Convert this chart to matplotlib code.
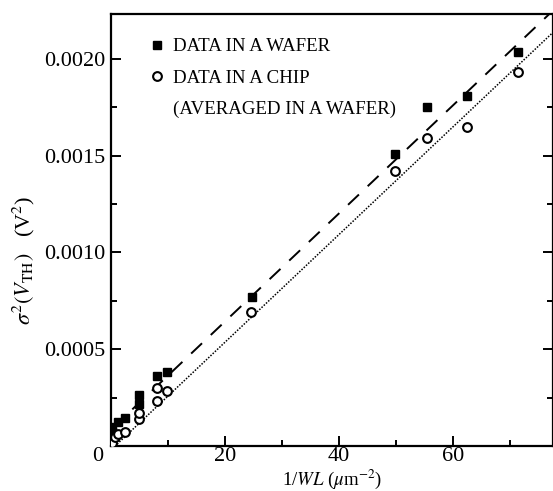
import matplotlib
matplotlib.use("Agg")
import matplotlib.pyplot as plt
import matplotlib.transforms as mtransforms
from matplotlib.lines import Line2D
import numpy as np

plt.rcParams['font.family'] = ['Liberation Serif', 'DejaVu Serif']
plt.rcParams['mathtext.fontset'] = 'stix'

# data
wafer_x = [0.2, 0.2, 1.2, 2.5, 4.9, 4.9, 8.1, 9.9, 24.8, 49.9, 55.5, 62.4, 71.4]
wafer_y = [0.000074, 0.0001, 0.000126, 0.000147, 0.000215, 0.000264,
           0.000364, 0.00038, 0.00077, 0.00151, 0.00175, 0.00181, 0.002036]

chip_x = [0.2, 0.7, 1.3, 2.5, 4.9, 4.9, 8.1, 8.1, 9.9, 24.6, 49.9, 55.5, 62.4, 71.4]
chip_y = [0.000015, 0.000048, 0.00006, 0.000074, 0.000140, 0.00017, 0.00023,
          0.0003, 0.000282, 0.00069, 0.00142, 0.00159, 0.00165, 0.00193]

# straight-line fits drawn in the figure (slope, intercept)
wafer_fit = (0.0000279, 0.000085)
chip_fit = (0.0000278, -0.00002)
fit_range = (0.3, 80)

fig = plt.figure(figsize=(5.53, 4.91), dpi=100)
ax = fig.add_axes([0.2007, 0.0916, 0.7985, 0.8793])

xs = np.linspace(fit_range[0], fit_range[1], 200)
ax.plot(xs, wafer_fit[0] * xs + wafer_fit[1], color='black', lw=1.4,
        dashes=(7.7, 6.2), zorder=2)
ax.plot(xs, chip_fit[0] * xs + chip_fit[1], color='black', lw=1.1,
        linestyle=(0, (1.0, 1.0)), zorder=2)

ax.plot(wafer_x, wafer_y, 's', color='black', ms=5.2, ls='none', zorder=3)
ax.plot(chip_x, chip_y, 'o', mfc='white', mec='black', mew=1.5, ms=6.3,
        ls='none', zorder=3)

ax.set_xlim(0, 77.5)
ax.set_ylim(0, 0.00223)

ax.set_xticks([0, 20, 40, 60])
ax.set_xticks([10, 30, 50, 70], minor=True)
ax.set_yticks([0.0005, 0.0010, 0.0015, 0.0020])
ax.set_yticklabels(['0.0005', '0.0010', '0.0015', '0.0020'])
ax.set_yticks([0.00025, 0.00075, 0.00125, 0.00175], minor=True)

ax.tick_params(which='both', direction='in', right=True, top=False,
               labelsize=16, width=1.4, pad=4)
ax.tick_params(which='major', length=7)
ax.tick_params(which='minor', length=4)
ax.tick_params(axis='x', pad=1)
for sp in ax.spines.values():
    sp.set_linewidth(1.6)

# nudge the "0" label left like the original
lab0 = ax.get_xticklabels()[0]
lab0.set_transform(lab0.get_transform() +
                   mtransforms.ScaledTranslation(-13 / 100, 0, fig.dpi_scale_trans))

ax.set_xlabel(r'1/$WL$ ($\mu$m$^{-2}$)', fontsize=13.5)
ax.xaxis.set_label_coords(0.5, -0.076, transform=ax.transAxes)
ax.xaxis.label.set_va('center')
ax.set_ylabel(r'$\sigma^2(V_{\rm TH})$   (V$^2$)', fontsize=16)
ax.yaxis.set_label_coords(-0.167, 0.43)

handles = [Line2D([], [], marker='s', color='black', ls='none', ms=5.2),
           Line2D([], [], marker='o', mfc='white', mec='black', mew=1.5,
                  ms=6.3, ls='none'),
           Line2D([], [], ls='none')]
labels = ['DATA IN A WAFER', 'DATA IN A CHIP', '(AVERAGED IN A WAFER)']
ax.legend(handles, labels, loc='upper left', bbox_to_anchor=(0.072, 0.962),
          frameon=False, fontsize=13.6, handlelength=0.7, handletextpad=0.5,
          labelspacing=0.75, borderaxespad=0)

fig.savefig('out.png', dpi=100)
